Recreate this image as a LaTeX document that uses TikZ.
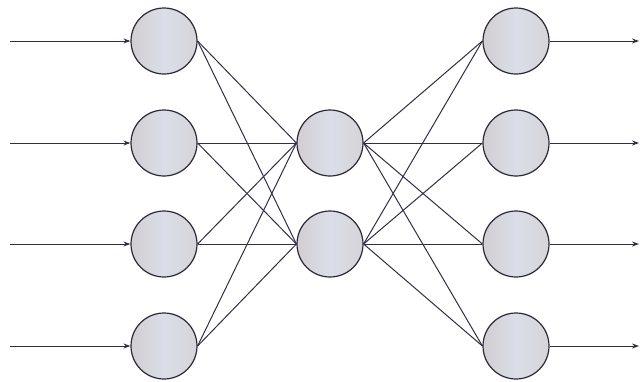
\documentclass[tikz,border=0pt]{standalone}
\usetikzlibrary{arrows.meta}
\definecolor{edgecol}{RGB}{50,45,70}
\definecolor{rimcol}{RGB}{45,40,55}
\definecolor{fillL}{RGB}{210,206,210}
\definecolor{fillM}{RGB}{218,222,232}
\definecolor{fillR}{RGB}{214,212,216}
\tikzset{
  neuron/.style={circle, draw=rimcol, line width=1.2pt, minimum size=66pt, inner sep=0pt,
    left color=fillL, right color=fillR, middle color=fillM},
  link/.style={draw=edgecol, line width=1pt},
  signal/.style={draw=edgecol, line width=1pt, -{Stealth[length=7pt,width=5pt]}}
}
\begin{document}
\begin{tikzpicture}[x=1pt,y=-1pt]
\useasboundingbox (0,0) rectangle (640,381);
\foreach \i/\y in {1/41,2/143,3/244,4/346}{
  \node[neuron] (in\i) at (164,\y) {};
  \node[neuron] (out\i) at (516,\y) {};
  \coordinate (src\i) at (10,\y);
  \coordinate (dst\i) at (639,\y);
}
\node[neuron] (h1) at (330,143) {};
\node[neuron] (h2) at (330,244) {};
\foreach \i in {1,2,3,4}{
  \draw[signal] (src\i) -- (in\i.west);
  \draw[signal] (out\i.east) -- (dst\i);
  \foreach \j in {1,2}{
    \draw[link] (in\i.east) -- (h\j.west);
    \draw[link] (h\j.east) -- (out\i.west);
  }
}
\end{tikzpicture}
\end{document}
